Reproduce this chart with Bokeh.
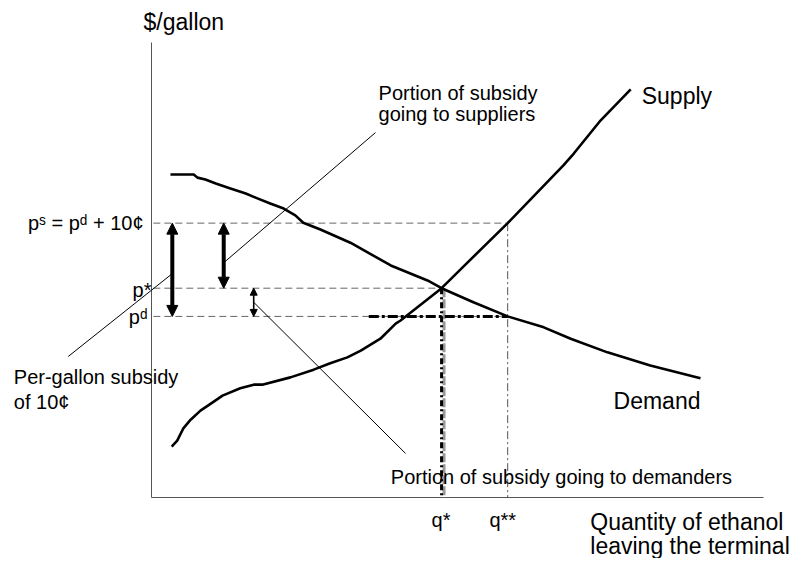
from bokeh.plotting import figure
from bokeh.models import Range1d, Arrow, NormalHead
from bokeh.core.properties import value
from bokeh.embed import file_html
from bokeh.resources import INLINE

# ---------------- data (quantity and price in axis units, 0-100) ----------------
demand_q = [3.1, 6.9, 7.5, 8.8, 10.5, 12.9, 15.4, 17.0, 19.4, 21.6, 23.5, 24.8, 27.6,
            32.5, 39.1, 45.1, 47.4, 52.6, 58.2, 64.1, 68.5, 74.5, 81.5, 89.7]
demand_p = [71.0, 71.0, 70.3, 69.9, 69.0, 67.9, 66.8, 65.9, 64.6, 63.5, 62.0, 60.4, 58.9,
            56.0, 51.0, 47.7, 46.0, 42.9, 39.8, 37.4, 34.9, 31.9, 29.0, 26.2]

supply_q = [3.3, 4.2, 5.2, 6.4, 8.0, 10.0, 11.6, 14.5, 16.7, 18.1, 22.7, 26.5, 29.2,
            32.0, 34.2, 37.4, 39.9, 40.7, 47.4, 51.0, 58.2, 67.3, 69.0, 73.4, 78.3]
supply_p = [11.2, 12.5, 15.2, 17.1, 19.1, 20.9, 22.4, 24.0, 24.8, 24.8, 26.4, 28.1, 29.5,
            30.8, 32.3, 34.9, 38.2, 38.9, 46.0, 50.8, 60.3, 73.0, 75.6, 82.9, 89.7]

p_s = 60.3      # supplier price  = p_d + 10 cents
p_star = 46.0   # equilibrium price without subsidy
p_d = 39.8      # demander price
q_star = 47.4   # equilibrium quantity without subsidy
q_2star = 58.2  # quantity with subsidy

axis_max = 100

big_labels = ["$/gallon", "Supply", "Demand", "Quantity of ethanol", "leaving the terminal"]
small_labels = ["Portion of subsidy", "going to suppliers", "Per-gallon subsidy", "of 10¢",
                "Portion of subsidy going to demanders"]
price_labels = ["pˢ = pᵈ + 10¢", "p*", "pᵈ"]
qty_labels = ["q*", "q**"]

# ---------------- layout ----------------
W, H = 790, 558
PX_X, PX_Y = 6.12, 4.55          # pixels per axis unit
ORIG_X, ORIG_Y = 151, 497        # canvas position of the axis origin
TEXT_SHIFT = 6.5 / PX_Y          # baseline correction

p = figure(width=W, height=H, output_backend="svg", toolbar_location=None,
           x_axis_type=None, y_axis_type=None, min_border=0,
           x_range=Range1d(-ORIG_X / PX_X, (W - ORIG_X) / PX_X),
           y_range=Range1d(-(H - ORIG_Y) / PX_Y, ORIG_Y / PX_Y))
p.grid.visible = False
p.outline_line_color = None
p.background_fill_color = "white"
p.border_fill_color = "white"

FONT = value("Liberation Sans")

# axes
p.segment(x0=[0, 0], y0=[0, 0], x1=[0, axis_max], y1=[axis_max, 0],
          line_color="#555555", line_width=1)

# thin guide lines
thin = dict(line_color="#666666", line_width=1, line_dash="7 4")
p.segment(x0=[0.3, 0.3, 0.3], y0=[p_s, p_star, p_d],
          x1=[q_2star, q_star, q_2star], y1=[p_s, p_star, p_d], **thin)
p.segment(x0=[q_2star], y0=[p_s], x1=[q_2star], y1=[0],
          line_color="#555555", line_width=1, line_dash="8 3 2 3")

# thick guide lines
p.segment(x0=[q_star + 0.4], y0=[p_star], x1=[q_star + 0.4], y1=[0],
          line_color="#999999", line_width=3, line_dash="9 2")
p.segment(x0=[q_star], y0=[p_star], x1=[q_star], y1=[0],
          line_color="black", line_width=3, line_dash="6 3 2 3")
p.segment(x0=[35.5], y0=[p_d], x1=[q_2star], y1=[p_d],
          line_color="black", line_width=3, line_dash="10 3 3 3")

# curves
p.line(demand_q, demand_p, line_color="black", line_width=2.6, line_join="round")
p.line(supply_q, supply_p, line_color="black", line_width=2.6, line_join="round")

# leader lines
p.segment(x0=[11.8, -13.6, 16.7], y0=[51.6, 31.0, 42.9],
          x1=[36.6, 3.4, 41.5], y1=[80.2, 49.2, 9.7],
          line_color="black", line_width=1)

# arrows
def add_arrow(x, y0, y1, w, hs):
    head = lambda: NormalHead(size=hs, fill_color="black", line_color="black", line_width=1)
    p.add_layout(Arrow(start=head(), end=head(), x_start=x, y_start=y0, x_end=x, y_end=y1,
                       line_color="black", line_width=w))

add_arrow(3.4, p_d, p_s, 4, 11)
add_arrow(11.8, p_star, p_s, 4, 11)
add_arrow(16.7, p_d, p_star, 1.6, 7)

# texts
def txt(x, y, s, size, align="left"):
    p.text(x=[x], y=[y + TEXT_SHIFT], text=[s], text_font=FONT, text_font_size=value(size),
           text_align=align, text_baseline="alphabetic", text_color="black")

txt(-1.3, 103.1, big_labels[0], "23px")
txt(80.1, 86.9, big_labels[1], "23px")
txt(75.5, 19.8, big_labels[2], "23px")
txt(71.7, -6.8, big_labels[3], "23px")
txt(71.7, -12.1, big_labels[4], "23px")

txt(37.1, 87.5, small_labels[0], "20px")
txt(37.1, 82.9, small_labels[1], "20px")
txt(-22.5, 25.1, small_labels[2], "20px")
txt(-22.5, 19.6, small_labels[3], "20px")
txt(39.1, 3.1, small_labels[4], "20px")

txt(-1.3, 58.9, price_labels[0], "20px", "right")
txt(0.0, 44.2, price_labels[1], "20px", "right")
txt(-0.65, 38.2, price_labels[2], "20px", "right")

txt(q_star - 0.1, -6.4, qty_labels[0], "20px", "center")
txt(q_2star - 0.8, -6.4, qty_labels[1], "20px", "center")

open("out.html", "w").write(file_html(p, INLINE))
